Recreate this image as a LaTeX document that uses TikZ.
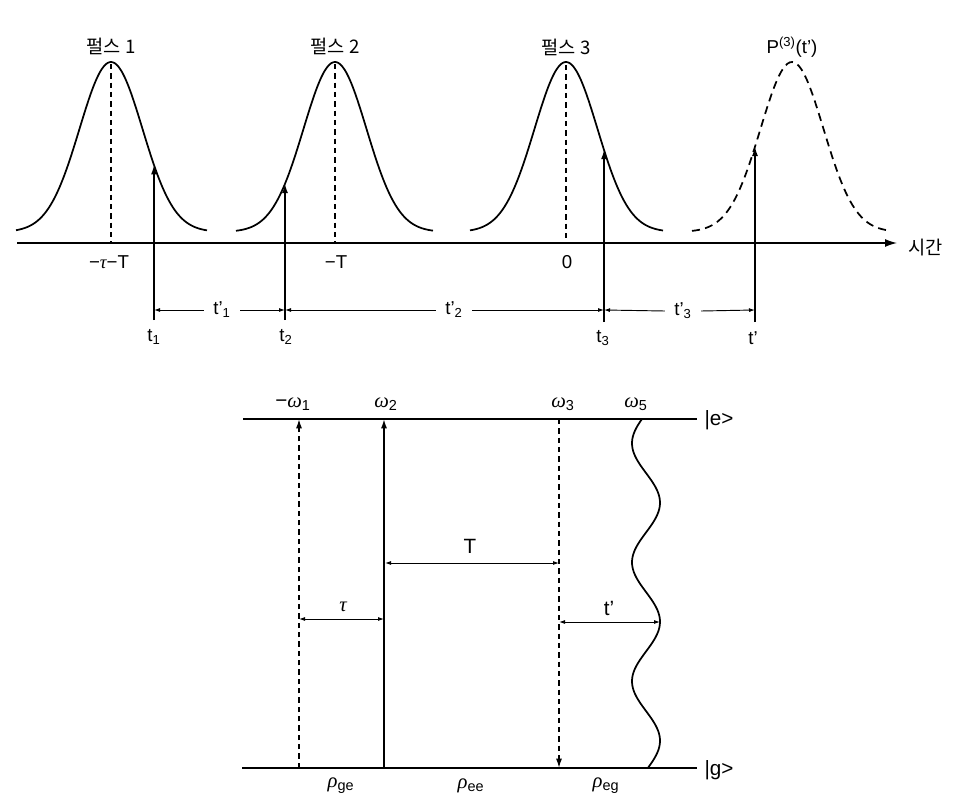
\documentclass[tikz,border=0pt]{standalone}
\usepackage{fontspec}
\setmainfont{Liberation Sans}
\newfontfamily\kr{Noto Sans CJK KR}
\newfontfamily\gr{Liberation Serif}
\newcommand{\gk}[1]{{\gr\itshape #1}}
\usetikzlibrary{arrows.meta}
\begin{document}
\begin{tikzpicture}[x=0.75pt,y=-0.75pt,
  declare function={g(\x,\c)=232-170*exp(-((\x-\c)^2)/1984.5);},
  every node/.style={font=\fontsize{14}{16}\selectfont, inner sep=1pt},
  big/.style={font=\fontsize{15.5}{18}\selectfont},
  curve/.style={line width=1.3pt},
  dcurve/.style={line width=1.3pt, dash pattern=on 6pt off 4pt},
  vdash/.style={line width=1.1pt, dash pattern=on 4pt off 3pt},
  uparrow/.style={line width=1.2pt, -{Latex[length=7pt,width=4.5pt]}},
  dimarrow/.style={line width=0.7pt, -{Latex[length=4.5pt,width=3pt]}},
  dimboth/.style={line width=0.7pt, {Latex[length=4.5pt,width=3pt]}-{Latex[length=4.5pt,width=3pt]}},
  level/.style={line width=1.3pt}
]
\useasboundingbox (0,0) rectangle (964,799);

% ---------- top: pulses ----------
\draw[curve] plot[domain=16:207, samples=90, smooth] (\x,{g(\x,111)});
\draw[curve] plot[domain=236:433, samples=90, smooth] (\x,{g(\x,335)});
\draw[curve] plot[domain=470:663, samples=90, smooth] (\x,{g(\x,566)});
\draw[dcurve] plot[domain=692:890, samples=90, smooth] (\x,{g(\x,792)});

\node (p1) at (111,46) {\kr 펄스 1};
\node (p2) at (335,46) {\kr 펄스 2};
\node (p3) at (566,47) {\kr 펄스 3};
\node (p4) at (792,47) {P\textsuperscript{(3)}(t')};

% axis
\coordinate (axL) at (17,243);
\coordinate (axR) at (897,243);
\draw[line width=1pt, -{Latex[length=9pt,width=6pt]}] (axL) -- (axR);
\node[anchor=west] (time) at (907,248) {\kr 시간};

% centre dashed lines
\coordinate (pk1) at (111,64); \coordinate (ax1) at (111,243);
\coordinate (pk2) at (335,64); \coordinate (ax2) at (335,243);
\coordinate (pk3) at (566,65); \coordinate (ax3) at (566,243);
\draw[vdash] (pk1) -- (ax1);
\draw[vdash] (pk2) -- (ax2);
\draw[vdash] (pk3) -- (ax3);

\node (l1) at (109,262) {−\gk{τ}−T};
\node (l2) at (336,262) {−T};
\node (l3) at (567,262) {0};

% vertical arrows
\coordinate (b1) at (154,320); \coordinate (c1) at (154,{g(154,111)});
\coordinate (b2) at (285,320); \coordinate (c2) at (285,{g(285,335)});
\coordinate (b3) at (604,322); \coordinate (c3) at (604,{g(604,566)});
\coordinate (b4) at (755,322); \coordinate (c4) at (755,{g(755,792)});
\draw[uparrow] (b1) -- (c1);
\draw[uparrow] (b2) -- (c2);
\draw[uparrow] (b3) -- (c3);
\draw[uparrow] (b4) -- (c4);

% dimension lines
\coordinate (d1) at (154,310);
\coordinate (d2) at (285,310);
\coordinate (d3) at (604,310);
\coordinate (d4) at (755,310);
\node[inner xsep=7pt] (tp1) at (222,310) {t'\textsubscript{1}};
\node[inner xsep=7pt] (tp2) at (454,310) {t'\textsubscript{2}};
\node[inner xsep=7pt] (tp3) at (683,311) {t'\textsubscript{3}};
\draw[dimarrow] (tp1.west) -- (d1);
\draw[dimarrow] (tp1.east) -- (d2);
\draw[dimarrow] (tp2.west) -- (d2);
\draw[dimarrow] (tp2.east) -- (d3);
\draw[dimarrow] (tp3.west) -- (d3);
\draw[dimarrow] (tp3.east) -- (d4);

\node (n1) at (154,337) {t\textsubscript{1}};
\node (n2) at (286,337) {t\textsubscript{2}};
\node (n3) at (603,338) {t\textsubscript{3}};
\node (n4) at (753,338) {t'};

% ---------- bottom: energy levels ----------
\coordinate (eL) at (243,419); \coordinate (eR) at (697,419);
\coordinate (gL) at (242,768); \coordinate (gR) at (697,768);
\draw[level] (eL) -- (eR);
\draw[level] (gL) -- (gR);
\node[big, anchor=west] (ket e) at (703,420) {|e>};
\node[big, anchor=west] (ket g) at (703,770) {|g>};

\coordinate (w1g) at (299,768); \coordinate (w1e) at (299,419);
\coordinate (w2g) at (384,768); \coordinate (w2e) at (384,419);
\coordinate (w3g) at (559,768); \coordinate (w3e) at (559,419);
\draw[vdash, -{Latex[length=7pt,width=4.5pt]}] (w1g) -- (w1e);
\draw[uparrow] (w2g) -- (w2e);
\draw[vdash, -{Latex[length=7pt,width=4.5pt]}] (w3e) -- (w3g);

\node[big] (o1) at (293,404) {−\gk{ω}\textsubscript{1}};
\node[big] (o2) at (386,404) {\gk{ω}\textsubscript{2}};
\node[big] (o3) at (563,404) {\gk{ω}\textsubscript{3}};
\node[big] (o5) at (636,404) {\gk{ω}\textsubscript{5}};

% emitted field (wavy line)
\draw[curve] plot[domain=419:768, samples=140, smooth] ({646+14*sin(3.02521*(\x-473))},\x);

% time intervals
\coordinate (Ta) at (385,563); \coordinate (Tb) at (559,563);
\draw[dimboth] (Ta) -- (Tb);
\node[big] (Tl) at (470,546) {T};
\coordinate (ta) at (299,619); \coordinate (tb) at (384,619);
\draw[dimboth] (ta) -- (tb);
\node[big] (taul) at (343,607) {\gk{τ}};
\coordinate (sa) at (559,622); \coordinate (wpk) at (660,622);
\draw[dimboth] (sa) -- (wpk);
\node[big] (tpl) at (609,608) {t'};

\node[big] (r1) at (341,786) {\gk{ρ}\textsubscript{ge}};
\node[big] (r2) at (471,786) {\gk{ρ}\textsubscript{ee}};
\node[big] (r3) at (606,786) {\gk{ρ}\textsubscript{eg}};
\end{tikzpicture}
\end{document}
